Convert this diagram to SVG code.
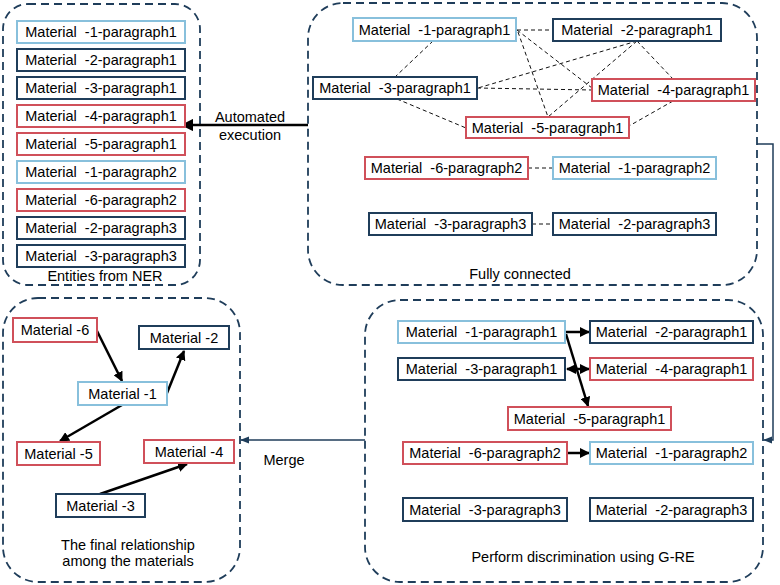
<svg xmlns="http://www.w3.org/2000/svg" width="780" height="585" viewBox="0 0 780 585">
<defs>
<marker id="ah" viewBox="0 0 10 10" refX="9" refY="5" markerWidth="4" markerHeight="4" orient="auto-start-reverse"><path d="M0,0 L10,5 L0,10 z" fill="#000"/></marker>
<marker id="ahs" viewBox="0 0 10 10" refX="9" refY="5" markerWidth="6" markerHeight="6" orient="auto"><path d="M0,1 L10,5 L0,9 z" fill="#1f3d5a"/></marker>
<marker id="ahb" viewBox="0 0 10 10" refX="9" refY="5" markerWidth="5" markerHeight="5" orient="auto"><path d="M0,0 L10,5 L0,10 z" fill="#000"/></marker>
</defs>
<style>
.panel{fill:none;stroke:#1f3d5a;stroke-width:1.8;stroke-dasharray:8 5}
.lb{fill:#fff;stroke:#88c0dc;stroke-width:2}
.nv{fill:#fff;stroke:#1f3d5a;stroke-width:2}
.rd{fill:#fff;stroke:#d0505a;stroke-width:2}
text{font-family:"Liberation Sans",Arial,sans-serif;font-size:14.5px;fill:#000}
.t{text-anchor:middle}
.dl{stroke:#111;stroke-width:1;stroke-dasharray:4 3;fill:none}
.ar{stroke:#000;stroke-width:2.5;fill:none}
.cn{stroke:#1f3d5a;stroke-width:1.5;fill:none}
</style>
<rect width="780" height="585" fill="#fff"/>
<g id="panels">
<rect class="panel" x="3" y="4" width="197" height="281" rx="25"/>
<rect class="panel" x="308" y="3" width="449" height="282" rx="35"/>
<rect class="panel" x="3" y="298" width="237" height="284" rx="35"/>
<rect class="panel" x="365" y="300" width="398" height="282" rx="35"/>
<text class="t" x="105" y="281">Entities from NER</text>
<text class="t" x="520" y="279">Fully connected</text>
<text class="t" x="583" y="562">Perform discrimination using G-RE</text>
<text class="t" x="128" y="550">The final relationship</text>
<text class="t" x="128" y="566">among the materials</text>
</g>
<g id="connectors">
<line class="dl" x1="517" y1="30" x2="553" y2="30"/>
<line class="dl" x1="433" y1="41" x2="395" y2="77"/>
<line class="dl" x1="517" y1="30" x2="592" y2="88"/>
<line class="dl" x1="518" y1="32" x2="548" y2="117"/>
<line class="dl" x1="637" y1="41" x2="478" y2="88"/>
<line class="dl" x1="637" y1="41" x2="548" y2="117"/>
<line class="dl" x1="637" y1="41" x2="673" y2="79"/>
<line class="dl" x1="477" y1="88" x2="592" y2="90"/>
<line class="dl" x1="397" y1="99" x2="466" y2="128"/>
<line class="dl" x1="673" y1="101" x2="629" y2="126"/>
<line class="dl" x1="528" y1="168" x2="553" y2="168"/>
<line class="dl" x1="532" y1="224" x2="553" y2="224"/>
<line class="ar" x1="308" y1="125" x2="182" y2="125" marker-end="url(#ahb)"/>
<polyline class="cn" points="757,144 773,144 773,440 764,440" marker-end="url(#ahs)"/>
<line class="cn" x1="365" y1="440" x2="241" y2="440" marker-end="url(#ahs)"/>
<line class="ar" x1="566" y1="332" x2="589" y2="332" marker-end="url(#ah)"/>
<line class="ar" x1="566" y1="334" x2="588" y2="406" marker-end="url(#ah)"/>
<line class="ar" x1="567" y1="369" x2="589" y2="369" marker-start="url(#ah)" marker-end="url(#ah)"/>
<line class="ar" x1="568" y1="453" x2="589" y2="453" marker-end="url(#ah)"/>
<line class="ar" x1="97" y1="331" x2="122" y2="381" marker-end="url(#ah)"/>
<line class="ar" x1="167" y1="393" x2="184" y2="351" marker-end="url(#ah)"/>
<line class="ar" x1="122" y1="405" x2="60" y2="441" marker-end="url(#ah)"/>
<line class="ar" x1="100" y1="494" x2="187" y2="464" marker-end="url(#ah)"/>
</g>
<text class="t" x="250" y="122">Automated</text>
<text class="t" x="250" y="140">execution</text>
<text class="t" x="284" y="465">Merge</text>
<g id="ner">
<g id="ner1"><rect class="lb" x="17" y="21" width="168" height="22"/><text class="t" x="101" y="37">Material &#160;-1-paragraph1</text></g>
<g id="ner2"><rect class="nv" x="17" y="49" width="168" height="22"/><text class="t" x="101" y="65">Material &#160;-2-paragraph1</text></g>
<g id="ner3"><rect class="nv" x="17" y="77" width="168" height="22"/><text class="t" x="101" y="93">Material &#160;-3-paragraph1</text></g>
<g id="ner4"><rect class="rd" x="17" y="105" width="168" height="22"/><text class="t" x="101" y="121">Material &#160;-4-paragraph1</text></g>
<g id="ner5"><rect class="rd" x="17" y="133" width="168" height="22"/><text class="t" x="101" y="149">Material &#160;-5-paragraph1</text></g>
<g id="ner6"><rect class="lb" x="17" y="161" width="168" height="22"/><text class="t" x="101" y="177">Material &#160;-1-paragraph2</text></g>
<g id="ner7"><rect class="rd" x="17" y="189" width="168" height="22"/><text class="t" x="101" y="205">Material &#160;-6-paragraph2</text></g>
<g id="ner8"><rect class="nv" x="17" y="217" width="168" height="22"/><text class="t" x="101" y="233">Material &#160;-2-paragraph3</text></g>
<g id="ner9"><rect class="nv" x="17" y="245" width="168" height="22"/><text class="t" x="101" y="261">Material &#160;-3-paragraph3</text></g>
</g>
<g id="fc">
<g id="fc1"><rect class="lb" x="353" y="18" width="163" height="23"/><text class="t" x="434.5" y="34.5">Material &#160;-1-paragraph1</text></g>
<g id="fc2"><rect class="nv" x="553" y="19" width="168" height="22"/><text class="t" x="637" y="35">Material &#160;-2-paragraph1</text></g>
<g id="fc3"><rect class="nv" x="313" y="77" width="164" height="22"/><text class="t" x="395" y="93">Material &#160;-3-paragraph1</text></g>
<g id="fc4"><rect class="rd" x="592" y="79" width="163" height="22"/><text class="t" x="673.5" y="95">Material &#160;-4-paragraph1</text></g>
<g id="fc5"><rect class="rd" x="466" y="117" width="163" height="21"/><text class="t" x="547.5" y="132.5">Material &#160;-5-paragraph1</text></g>
<g id="fc6"><rect class="rd" x="365" y="157" width="163" height="22"/><text class="t" x="446.5" y="173">Material &#160;-6-paragraph2</text></g>
<g id="fc7"><rect class="lb" x="553" y="157" width="163" height="22"/><text class="t" x="634.5" y="173">Material &#160;-1-paragraph2</text></g>
<g id="fc8"><rect class="nv" x="369" y="213" width="163" height="22"/><text class="t" x="450.5" y="229">Material &#160;-3-paragraph3</text></g>
<g id="fc9"><rect class="nv" x="553" y="213" width="163" height="22"/><text class="t" x="634.5" y="229">Material &#160;-2-paragraph3</text></g>
</g>
<g id="gre">
<g id="g1"><rect class="lb" x="398" y="321" width="167" height="22"/><text class="t" x="481.5" y="337">Material &#160;-1-paragraph1</text></g>
<g id="g2"><rect class="nv" x="590" y="321" width="163" height="22"/><text class="t" x="671.5" y="337">Material &#160;-2-paragraph1</text></g>
<g id="g3"><rect class="nv" x="398" y="358" width="167" height="22"/><text class="t" x="481.5" y="374">Material &#160;-3-paragraph1</text></g>
<g id="g4"><rect class="rd" x="590" y="358" width="163" height="22"/><text class="t" x="671.5" y="374">Material &#160;-4-paragraph1</text></g>
<g id="g5"><rect class="rd" x="508" y="407" width="163" height="23"/><text class="t" x="589.5" y="423.5">Material &#160;-5-paragraph1</text></g>
<g id="g6"><rect class="rd" x="403" y="442" width="164" height="22"/><text class="t" x="485" y="458">Material &#160;-6-paragraph2</text></g>
<g id="g7"><rect class="lb" x="590" y="442" width="163" height="22"/><text class="t" x="671.5" y="458">Material &#160;-1-paragraph2</text></g>
<g id="g8"><rect class="nv" x="403" y="498" width="164" height="23"/><text class="t" x="485" y="514.5">Material &#160;-3-paragraph3</text></g>
<g id="g9"><rect class="nv" x="590" y="498" width="163" height="23"/><text class="t" x="671.5" y="514.5">Material &#160;-2-paragraph3</text></g>
</g>
<g id="final">
<g id="m6"><rect class="rd" x="13" y="318" width="84" height="24"/><text class="t" x="55" y="335">Material -6</text></g>
<g id="m2"><rect class="nv" x="139" y="326" width="90" height="23"/><text class="t" x="184" y="342.5">Material -2</text></g>
<g id="m1"><rect class="lb" x="78" y="382" width="89" height="23"/><text class="t" x="122.5" y="398.5">Material -1</text></g>
<g id="m5"><rect class="rd" x="17" y="442" width="83" height="23"/><text class="t" x="58.5" y="458.5">Material -5</text></g>
<g id="m4"><rect class="rd" x="144" y="440" width="90" height="23"/><text class="t" x="189" y="456.5">Material -4</text></g>
<g id="m3"><rect class="nv" x="56" y="494" width="89" height="23"/><text class="t" x="100.5" y="510.5">Material -3</text></g>
</g>
</svg>
